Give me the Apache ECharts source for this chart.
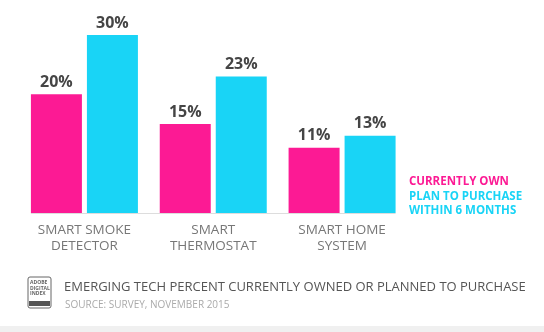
<!DOCTYPE html>
<html><head><meta charset="utf-8">
<script src="https://cdn.jsdelivr.net/npm/echarts@6/dist/echarts.min.js"></script>
<style>html,body{margin:0;padding:0;background:#fff}#c{width:544px;height:332px}</style>
</head><body><div id="c"></div>
<script>
const categories = ["SMART SMOKE\nDETECTOR", "SMART\nTHERMOSTAT", "SMART HOME\nSYSTEM"];
const currentlyOwn = [20, 15, 11];
const planToPurchase = [30, 23, 13];
const seriesNames = ["CURRENTLY OWN", "PLAN TO PURCHASE\nWITHIN 6 MONTHS"];
const title = "EMERGING TECH PERCENT CURRENTLY OWNED OR PLANNED TO PURCHASE";
const source = "SOURCE: SURVEY, NOVEMBER 2015";

const PINK = '#fc1a94', CYAN = '#19d4f6';
const BAR_W = 51, GAP = 5;
const chart = echarts.init(document.getElementById('c'), null, {renderer: 'canvas'});
const lbl = {show: true, position: 'top', distance: 4, formatter: '{c}%', color: '#454545',
  fontFamily: 'Open Sans', fontWeight: 'bold', fontSize: 16};
const graphics = [
  {type: 'text', left: 409, top: 176, style: {text: seriesNames[0], fill: PINK,
    font: 'bold 11.5px "Open Sans"'}},
  {type: 'text', left: 409, top: 190, style: {text: seriesNames[1], fill: CYAN,
    font: 'bold 11.5px "Open Sans"', lineHeight: 14}},
  {type: 'text', left: 64, top: 281, style: {text: title, fill: '#555',
    font: '13px "Open Sans"'}},
  {type: 'text', left: 65, top: 300, style: {text: source, fill: '#aaa',
    font: '10px "Open Sans"'}},
  {type: 'rect', shape: {x: 28, y: 277, width: 23, height: 31, r: 2},
    style: {fill: '#fff', stroke: '#666', lineWidth: 1}},
  {type: 'rect', shape: {x: 29, y: 301, width: 21, height: 5},
    style: {fill: '#555'}},
  {type: 'text', left: 30, top: 280, style: {text: 'ADOBE\nDIGITAL\nINDEX', fill: '#666',
    font: 'bold 5px "Open Sans"', lineHeight: 5.5}},
  {type: 'rect', shape: {x: 0, y: 326, width: 544, height: 6}, style: {fill: '#f0f0f0'}}
];
chart.setOption({
  animation: false,
  grid: {left: 20, right: 137.5, top: 35, bottom: 119},
  xAxis: {type: 'category', data: categories,
    axisLine: {show: false},
    axisTick: {show: false},
    axisLabel: {color: '#777', fontFamily: 'Open Sans', fontSize: 13.5, lineHeight: 16, margin: 9}},
  yAxis: {type: 'value', min: 0, max: 30, show: false, splitLine: {show: false}},
  series: [
    {name: seriesNames[0], type: 'bar', data: currentlyOwn, barWidth: BAR_W, barGap: (GAP / BAR_W * 100) + '%',
      itemStyle: {color: PINK}, label: lbl, z: 3},
    {name: seriesNames[1], type: 'bar', data: planToPurchase, barWidth: BAR_W,
      itemStyle: {color: CYAN}, label: lbl, z: 3}
  ],
  graphic: graphics
});
// baseline spanning from first bar's left edge to last bar's right edge
const x0 = chart.convertToPixel({xAxisIndex: 0}, 0) - BAR_W - GAP / 2;
const x1 = chart.convertToPixel({xAxisIndex: 0}, categories.length - 1) + BAR_W + GAP / 2;
const y0 = chart.convertToPixel({yAxisIndex: 0}, 0);
graphics.push({type: 'line', z: 1, shape: {x1: x0, y1: y0 + 0.5, x2: x1, y2: y0 + 0.5},
  style: {stroke: '#dddddd', lineWidth: 1}});
chart.setOption({graphic: graphics});
</script></body></html>
